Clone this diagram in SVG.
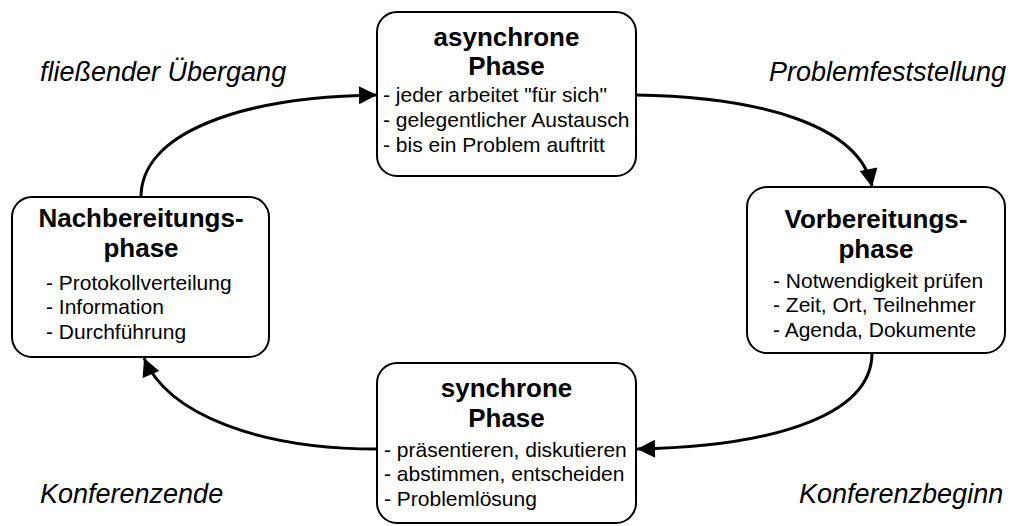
<svg xmlns="http://www.w3.org/2000/svg" width="1010" height="526" viewBox="0 0 1010 526">
<defs>
<marker id="ah" viewBox="0 0 10 10" refX="10" refY="5" markerWidth="9" markerHeight="6" markerUnits="strokeWidth" orient="auto">
<path d="M0,0 L10,5 L0,10 z" fill="#000"/>
</marker>
<style>
.box{fill:#fff;stroke:#000;stroke-width:2}
.t{font-family:"Liberation Sans",Arial,sans-serif;font-weight:bold;font-size:26px;text-anchor:middle;fill:#000}
.b{font-family:"Liberation Sans",Arial,sans-serif;font-size:21px;fill:#000}
.l{font-family:"Liberation Sans",Arial,sans-serif;font-style:italic;font-size:27px;fill:#000}
.c{fill:none;stroke:#000;stroke-width:3;marker-end:url(#ah)}
</style>
</defs>
<rect width="1010" height="526" fill="#fff"/>
<g id="connectors">
<path class="c" d="M141,197 C141,135 235,97 377,95"/>
<path class="c" d="M636,95 C760,97 860,125 872,187"/>
<path class="c" d="M872,353 C872,420 760,447 637,449"/>
<path class="c" d="M377,449 C260,449 168,415 144,358"/>
</g>
<g id="async">
<rect class="box" x="377" y="12" width="259" height="164" rx="20"/>
<text class="t" x="506.5" y="46">asynchrone</text>
<text class="t" x="506.5" y="75">Phase</text>
<text class="b" x="383" y="102">- jeder arbeitet "für sich"</text>
<text class="b" x="383" y="127">- gelegentlicher Austausch</text>
<text class="b" x="383" y="152">- bis ein Problem auftritt</text>
</g>
<g id="vorb">
<rect class="box" x="747" y="187" width="258" height="166" rx="20"/>
<text class="t" x="876" y="228">Vorbereitungs-</text>
<text class="t" x="876" y="258">phase</text>
<text class="b" x="773" y="288">- Notwendigkeit prüfen</text>
<text class="b" x="773" y="312">- Zeit, Ort, Teilnehmer</text>
<text class="b" x="773" y="337">- Agenda, Dokumente</text>
</g>
<g id="sync">
<rect class="box" x="377" y="363" width="259" height="160" rx="20"/>
<text class="t" x="506.5" y="397">synchrone</text>
<text class="t" x="506.5" y="427">Phase</text>
<text class="b" x="384" y="457">- präsentieren, diskutieren</text>
<text class="b" x="384" y="481">- abstimmen, entscheiden</text>
<text class="b" x="384" y="506">- Problemlösung</text>
</g>
<g id="nachb">
<rect class="box" x="12" y="197" width="257" height="160" rx="20"/>
<text class="t" x="141" y="227">Nachbereitungs-</text>
<text class="t" x="141" y="257">phase</text>
<text class="b" x="46" y="290">- Protokollverteilung</text>
<text class="b" x="46" y="314">- Information</text>
<text class="b" x="46" y="339">- Durchführung</text>
</g>
<g id="labels">
<text class="l" x="40" y="81">fließender Übergang</text>
<text class="l" x="769" y="81">Problemfeststellung</text>
<text class="l" x="40" y="503">Konferenzende</text>
<text class="l" x="799" y="503">Konferenzbeginn</text>
</g>
</svg>
